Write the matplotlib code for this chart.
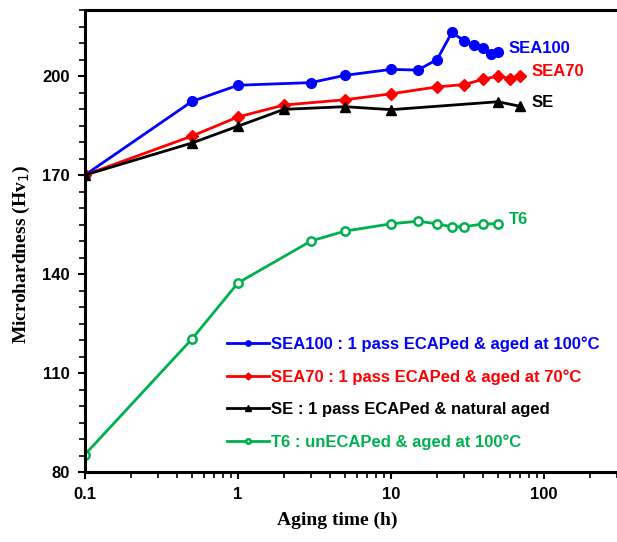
import matplotlib
matplotlib.use("Agg")
import matplotlib.pyplot as plt
from matplotlib.ticker import FixedLocator, MultipleLocator, LogLocator, NullFormatter

# aging time (h) and microhardness (Hv1)
t_sea100 = [0.1, 0.5, 1, 3, 5, 10, 15, 20, 25, 30, 35, 40, 45, 50]
hv_sea100 = [170, 192.3, 197.2, 198, 200.2, 202, 201.8, 205, 213.2, 210.7, 209.4, 208.4, 206.8, 207.2]

t_sea70 = [0.1, 0.5, 1, 2, 5, 10, 20, 30, 40, 50, 60, 70]
hv_sea70 = [170, 181.8, 187.6, 191.2, 192.8, 194.6, 196.7, 197.4, 199, 200, 199.2, 200]

t_se = [0.1, 0.5, 1, 2, 5, 10, 50, 70]
hv_se = [170, 179.7, 184.8, 189.9, 190.7, 189.8, 192.2, 190.8]

t_t6 = [0.1, 0.5, 1, 3, 5, 10, 15, 20, 25, 30, 40, 50]
hv_t6 = [85.3, 120.3, 137.3, 150, 153, 155.2, 156, 155.2, 154.3, 154.3, 155.2, 155.2]

legend_labels = ["SEA100 : 1 pass ECAPed & aged at 100\u00b0C",
                 "SEA70 : 1 pass ECAPed & aged at 70\u00b0C",
                 "SE : 1 pass ECAPed & natural aged",
                 "T6 : unECAPed & aged at 100\u00b0C"]
end_labels = ["SEA100", "SEA70", "SE", "T6"]

blue, red, black, green = "#0000ff", "#ff0000", "#000000", "#00b04f"

fig = plt.figure(figsize=(6.17, 5.42), dpi=100)
ax = fig.add_axes((85/617, 70/542, 1 - 85/617, (472-10)/542))

sans = "Liberation Sans"
serif = "Liberation Serif"

series = [
    (t_sea100, hv_sea100, blue, dict(marker="o", ms=7, mfc=blue, mec=blue)),
    (t_sea70, hv_sea70, red, dict(marker="D", ms=6.5, mfc=red, mec=red)),
    (t_se, hv_se, black, dict(marker="^", ms=7.5, mfc=black, mec=black)),
    (t_t6, hv_t6, green, dict(marker="o", ms=6, mfc="white", mec=green, mew=1.8)),
]
lines = []
for (t, hv, c, mk), lab, end in zip(series, legend_labels, end_labels):
    ln, = ax.plot(t, hv, color=c, lw=2, label=lab, **mk)
    lines.append(ln)
    ax.annotate(end, (t[-1], hv[-1]), xytext=(11, 4), textcoords="offset pixels",
                color=c, fontsize=12, fontweight="bold", family=sans,
                ha="left", va="center")

ax.set_xscale("log")
ax.set_xlim(0.1, 300)
ax.set_ylim(80, 220)
ax.yaxis.set_major_locator(FixedLocator([80, 110, 140, 170, 200]))
ax.yaxis.set_minor_locator(MultipleLocator(5))
ax.xaxis.set_major_locator(FixedLocator([0.1, 1, 10, 100]))
ax.xaxis.set_minor_locator(LogLocator(base=10, subs=range(2, 10)))
ax.xaxis.set_minor_formatter(NullFormatter())
ax.set_xticklabels(["0.1", "1", "10", "100"])

for s in ["left", "bottom", "top"]:
    ax.spines[s].set_linewidth(2.2)
ax.spines["right"].set_visible(False)
ax.tick_params(which="major", direction="out", length=5, width=1.5, pad=6,
               labelsize=12, top=False, right=False)
ax.tick_params(which="minor", direction="out", length=4, width=1.2, top=False, right=False)
for lbl in ax.get_xticklabels() + ax.get_yticklabels():
    lbl.set_fontweight("bold")
    lbl.set_family(sans)

ax.set_xlabel("Aging time (h)", fontsize=14, fontweight="bold", family=serif)
ax.xaxis.set_label_coords(0.474, -0.085)
ax.set_ylabel("Microhardness (Hv$_1$)", fontsize=14, fontweight="bold", family=serif)
ax.yaxis.set_label_coords(-0.10, 0.47)

leg = ax.legend(handles=lines, loc="upper left", bbox_to_anchor=(0.267, 0.293),
                frameon=False, labelcolor="linecolor", markerscale=0.55,
                handlelength=2.5, handletextpad=0.15, labelspacing=1.03,
                borderpad=0, borderaxespad=0,
                prop=dict(family=sans, weight="bold", size=12))

fig.savefig("out.png", dpi=100)
